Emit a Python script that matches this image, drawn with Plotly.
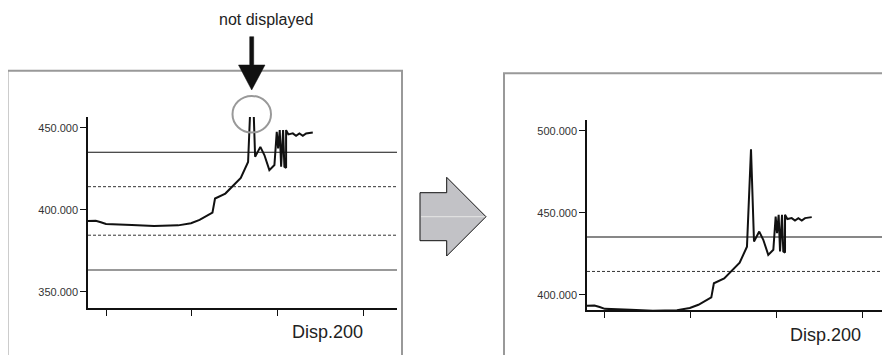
import plotly.graph_objects as go

# page body has an 8px margin, so the figure is drawn 8px in from the window edge
OFF = 8
W, H = 890 - OFF, 355 - OFF

# ---- data ----
x_vals = [-21, -12, -6, 0, 30, 56, 84, 99, 109, 120, 124, 127, 139, 157, 165.5, 170.2,
          173.7, 179.8, 184.5, 190.3, 196.2, 198.9, 200.5, 202.4, 204, 206.3, 207.8,
          209.8, 209.8, 212.5, 217.6, 221.4, 225.3, 229.3, 233.1, 240.9]
y_vals = [393.3, 393.4, 392.5, 391.4, 390.8, 390.2, 390.6, 391.9, 393.9, 397.5, 398.4,
          407, 410, 419.5, 429.3, 488.7, 432.4, 438.5, 433.5, 424.3, 427.4, 447.7,
          437.5, 448.7, 426.4, 448.7, 426.4, 425.7, 448.7, 446.1, 446.7, 445.2, 446.7,
          445.2, 446.7, 447.3]
limit_solid = [435.2, 363.4]
limit_dashed = [414.2, 384.6]
x_ticks = [0, 100, 200, 300]
left_yticks = [350, 400, 450]
right_yticks = [400, 450, 500]
left_range = [340.2, 456.7]
right_range = [390.7, 506.5]
x_range_left = [-21, 339]
x_range_right = [-20.7, 332]


def px(x):
    return (x - OFF) / W


def py(y):
    return 1 - (y - OFF) / H


fig = go.Figure()
line_style = dict(color="#111111", width=2)
fig.add_trace(go.Scatter(x=x_vals, y=y_vals, mode="lines", line=line_style,
                         xaxis="x", yaxis="y", showlegend=False, hoverinfo="skip"))
fig.add_trace(go.Scatter(x=x_vals, y=y_vals, mode="lines", line=line_style,
                         xaxis="x2", yaxis="y2", showlegend=False, hoverinfo="skip"))

font = "Arial, Liberation Sans, sans-serif"
xax = dict(showline=True, linecolor="#111", linewidth=1.5, ticks="outside",
           tickvals=x_ticks, showticklabels=False, ticklen=6, tickwidth=1.3,
           tickcolor="#111", showgrid=False, zeroline=False)
yax = dict(showline=True, linecolor="#111", linewidth=1.5, ticks="outside",
           ticklen=6, tickwidth=1.3, tickcolor="#111", showgrid=False, zeroline=False,
           tickfont=dict(size=11, color="#333", family=font))

fig.update_layout(
    width=W, height=H, margin=dict(l=0, r=0, t=0, b=0),
    paper_bgcolor="white", plot_bgcolor="white",
    xaxis=dict(xax, domain=[px(88), px(397)], range=x_range_left, anchor="y"),
    yaxis=dict(yax, domain=[py(308), py(117)], range=left_range, anchor="x",
               tickvals=left_yticks, ticktext=[f"{v:.3f}" for v in left_yticks]),
    xaxis2=dict(xax, domain=[px(587), 1.0], range=x_range_right, anchor="y2"),
    yaxis2=dict(yax, domain=[py(310), py(120)], range=right_range, anchor="x2",
                tickvals=right_yticks, ticktext=[f"{v:.3f}" for v in right_yticks]),
)

shapes = []
for xr, yr, rng in [("x", "y", left_range), ("x2", "y2", right_range)]:
    for i, v in enumerate(limit_solid):
        if rng[0] <= v <= rng[1]:
            shapes.append(dict(type="line", xref=f"{xr} domain", yref=yr, x0=0, x1=1,
                               y0=v, y1=v,
                               line=dict(color="#111" if i == 0 else "#777", width=1.2 if i == 0 else 1.6)))
    for v in limit_dashed:
        if rng[0] <= v <= rng[1]:
            shapes.append(dict(type="line", xref=f"{xr} domain", yref=yr, x0=0, x1=1,
                               y0=v, y1=v, line=dict(color="#333", width=1, dash="3px,2px")))

# panel frames
shapes.append(dict(type="rect", xref="paper", yref="paper", x0=px(7.5), x1=px(402),
                   y0=py(365), y1=py(70.7), line=dict(color="#999", width=2)))
shapes.append(dict(type="rect", xref="paper", yref="paper", x0=px(504), x1=px(900),
                   y0=py(365), y1=py(73.3), line=dict(color="#999", width=2)))

# gray arrow between panels
pts = [(420, 192.7), (446.7, 192.7), (446.7, 177.3), (486, 216.7), (446.7, 256),
       (446.7, 240.7), (420, 240.7)]
path = "M " + " L ".join(f"{px(a):.5f},{py(b):.5f}" for a, b in pts) + " Z"
shapes.append(dict(type="path", xref="paper", yref="paper", path=path,
                   fillcolor="#c2c2c6", line=dict(color="#111", width=1)))
shapes.append(dict(type="line", xref="paper", yref="paper", x0=px(421), x1=px(485),
                   y0=py(216.7), y1=py(216.7), line=dict(color="#e6e6e6", width=1)))

# black down arrow
dpts = [(249.7, 36.7), (253.7, 36.7), (253.7, 65), (265, 65), (251.7, 90),
        (238.5, 65), (249.7, 65)]
dpath = "M " + " L ".join(f"{px(a):.5f},{py(b):.5f}" for a, b in dpts) + " Z"
shapes.append(dict(type="path", xref="paper", yref="paper", path=dpath,
                   fillcolor="#111", line=dict(color="#111", width=0.5)))

# circle marking clipped peak
shapes.append(dict(type="circle", xref="paper", yref="paper", x0=px(232.5), x1=px(271),
                   y0=py(96), y1=py(132.5), line=dict(color="#999", width=2)))

fig.update_layout(shapes=shapes)

annotations = [
    dict(text="not displayed", x=px(265.5), y=py(19), xref="paper", yref="paper",
         showarrow=False, font=dict(size=16, color="#222", family=font),
         xanchor="center", yanchor="middle"),
    dict(text="Disp.200", x=px(290), y=py(332), xref="paper", yref="paper",
         showarrow=False, font=dict(size=18, color="#222", family=font),
         xanchor="left", yanchor="middle"),
    dict(text="Disp.200", x=px(788), y=py(335), xref="paper", yref="paper",
         showarrow=False, font=dict(size=18, color="#222", family=font),
         xanchor="left", yanchor="middle"),
]
fig.update_layout(annotations=annotations)

fig.write_html("out.html")
